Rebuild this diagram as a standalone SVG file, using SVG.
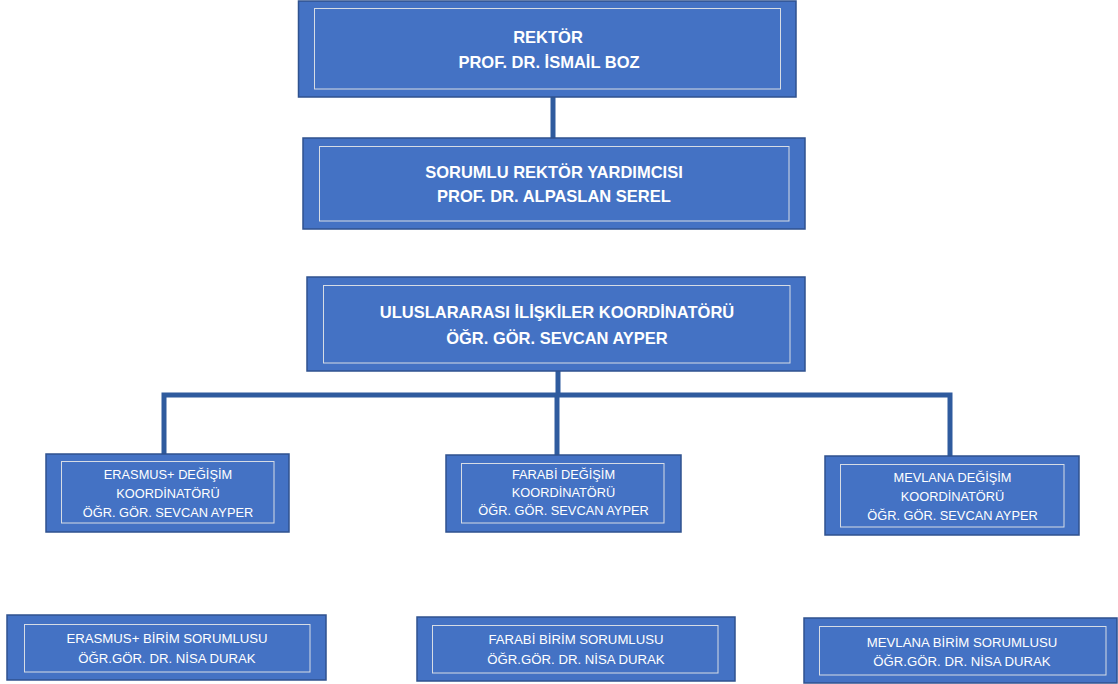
<svg xmlns="http://www.w3.org/2000/svg" width="1118" height="684" viewBox="0 0 1118 684">
<style>
.outer{fill:#4472C4;stroke:#2F528F;stroke-width:1.5}
.inner{fill:none;stroke:#D6DCE5;stroke-width:1}
.conn{fill:none;stroke:#2F5B9E;stroke-width:5}
text{font-family:"Liberation Sans",Arial,sans-serif;fill:#FFFFFF;text-anchor:middle}
.b{font-weight:bold;font-size:16.5px}
.r{font-size:12.8px}
.s{font-size:13.2px}
</style>
<rect width="1118" height="684" fill="#FFFFFF"/>
<g id="connectors">
<path class="conn" d="M553 97V138"/>
<path class="conn" d="M558 371V395"/>
<path class="conn" d="M164 454V395H950V456"/>
<path class="conn" d="M557 395V455"/>
</g>
<g id="rektor">
<rect class="outer" x="298.5" y="1" width="497.5" height="96"/>
<rect class="inner" x="314.5" y="8.5" width="466" height="80.5"/>
<text class="b" x="548" y="43">REKTÖR</text>
<text class="b" x="549" y="68">PROF. DR. İSMAİL BOZ</text>
</g>
<g id="rektor-yardimcisi">
<rect class="outer" x="303" y="138" width="502" height="91"/>
<rect class="inner" x="319.5" y="146.5" width="469.5" height="74.5"/>
<text class="b" x="554" y="178">SORUMLU REKTÖR YARDIMCISI</text>
<text class="b" x="554" y="202">PROF. DR. ALPASLAN SEREL</text>
</g>
<g id="uluslararasi">
<rect class="outer" x="307" y="277" width="498" height="94"/>
<rect class="inner" x="323.5" y="285.5" width="466.5" height="77.5"/>
<text class="b" x="557" y="318">ULUSLARARASI İLİŞKİLER KOORDİNATÖRÜ</text>
<text class="b" x="557" y="344">ÖĞR. GÖR. SEVCAN AYPER</text>
</g>
<g id="erasmus-koord">
<rect class="outer" x="46" y="454" width="243" height="78"/>
<rect class="inner" x="61.5" y="461.5" width="212.5" height="61.5"/>
<text class="r" x="168" y="479">ERASMUS+ DEĞİŞİM</text>
<text class="r" x="168" y="498">KOORDİNATÖRÜ</text>
<text class="r" x="168" y="517">ÖĞR. GÖR. SEVCAN AYPER</text>
</g>
<g id="farabi-koord">
<rect class="outer" x="446" y="455" width="235" height="77"/>
<rect class="inner" x="461.5" y="463.5" width="202.5" height="59.5"/>
<text class="r" x="563.5" y="479">FARABİ DEĞİŞİM</text>
<text class="r" x="563.5" y="497">KOORDİNATÖRÜ</text>
<text class="r" x="563.5" y="515">ÖĞR. GÖR. SEVCAN AYPER</text>
</g>
<g id="mevlana-koord">
<rect class="outer" x="825" y="456" width="254" height="79"/>
<rect class="inner" x="840.5" y="464.5" width="223.5" height="62.5"/>
<text class="r" x="952.5" y="482">MEVLANA DEĞİŞİM</text>
<text class="r" x="952.5" y="501">KOORDİNATÖRÜ</text>
<text class="r" x="952.5" y="520">ÖĞR. GÖR. SEVCAN AYPER</text>
</g>
<g id="erasmus-birim">
<rect class="outer" x="7" y="615" width="319" height="65"/>
<rect class="inner" x="24.5" y="624.5" width="285.5" height="47.5"/>
<text class="s" x="167" y="643">ERASMUS+ BİRİM SORUMLUSU</text>
<text class="s" x="167" y="663">ÖĞR.GÖR. DR. NİSA DURAK</text>
</g>
<g id="farabi-birim">
<rect class="outer" x="417" y="617" width="318" height="64"/>
<rect class="inner" x="432.5" y="625.5" width="285.5" height="47.5"/>
<text class="s" x="576" y="644">FARABİ BİRİM SORUMLUSU</text>
<text class="s" x="576" y="664">ÖĞR.GÖR. DR. NİSA DURAK</text>
</g>
<g id="mevlana-birim">
<rect class="outer" x="804" y="618" width="313" height="65"/>
<rect class="inner" x="819.5" y="626.5" width="286.5" height="48.5"/>
<text class="s" x="962" y="647">MEVLANA BİRİM SORUMLUSU</text>
<text class="s" x="962" y="666">ÖĞR.GÖR. DR. NİSA DURAK</text>
</g>
</svg>
